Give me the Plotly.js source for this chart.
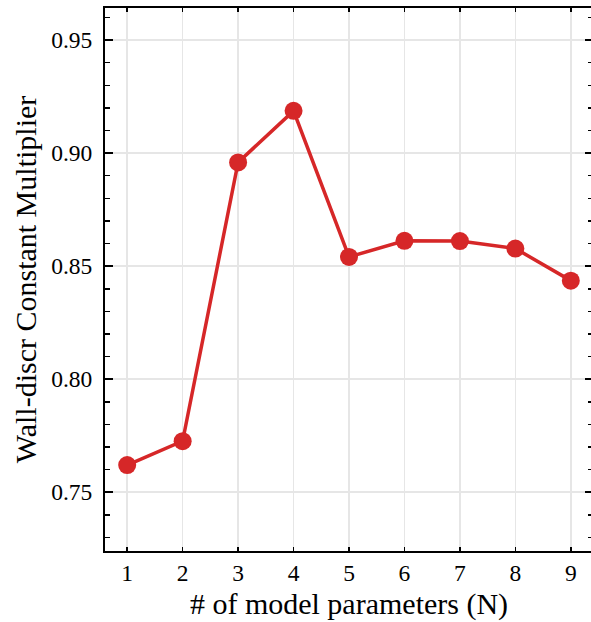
<!DOCTYPE html>
<html>
<head>
<meta charset="utf-8">
<script src="https://cdn.plot.ly/plotly-3.0.1.min.js"></script>
<style>
html,body{margin:0;padding:0;background:#fff;overflow:hidden;}
#chart{width:596px;height:622px;}
</style>
</head>
<body>
<div id="chart"></div>
<script>
const nParams = [1, 2, 3, 4, 5, 6, 7, 8, 9];
const multiplier = [0.7620, 0.7726, 0.8959, 0.9187, 0.8541, 0.8612, 0.8611, 0.8578, 0.8436];
const xTickVals = [1, 2, 3, 4, 5, 6, 7, 8, 9];
const yTickVals = [0.75, 0.80, 0.85, 0.90, 0.95];
const yTickText = ["0.75", "0.80", "0.85", "0.90", "0.95"];

const red = "#d62728";
const font = "Liberation Serif";

const trace = {
  x: nParams, y: multiplier, type: "scatter", mode: "lines+markers",
  line: {color: red, width: 3.5},
  marker: {color: red, size: 18},
  showlegend: false, hoverinfo: "x+y"
};

const axisCommon = {
  showline: true, linecolor: "#000", linewidth: 2, mirror: "allticks",
  ticks: "inside", tickcolor: "#000", tickwidth: 1.5,
  showgrid: true, gridcolor: "#e6e6e6", gridwidth: 1.5,
  zeroline: false,
  tickfont: {family: font, size: 23.5, color: "#000"}
};

const layout = {
  width: 596, height: 622,
  margin: {l: 105, r: 3, t: 8, b: 71},
  paper_bgcolor: "#fff", plot_bgcolor: "#fff",
  font: {family: font, color: "#000"},
  xaxis: Object.assign({}, axisCommon, {
    range: [0.6, 9.4], tickmode: "array", tickvals: xTickVals,
    ticklen: 4,
    title: {text: "# of model parameters (N)", font: {family: font, size: 30, color: "#000"}, standoff: 8}
  }),
  yaxis: Object.assign({}, axisCommon, {
    range: [0.724, 0.9642], tickmode: "array", tickvals: yTickVals, ticktext: yTickText,
    ticklen: 8, ticklabelstandoff: 6,
    minor: {dtick: 0.01, tick0: 0.75, ticks: "inside", ticklen: 5, tickcolor: "#000", tickwidth: 1.5, showgrid: false},
    title: {text: "Wall-discr Constant Multiplier", font: {family: font, size: 30, color: "#000"}, standoff: 6}
  })
};

Plotly.newPlot("chart", [trace], layout, {displayModeBar: false, staticPlot: true});
</script>
</body>
</html>
